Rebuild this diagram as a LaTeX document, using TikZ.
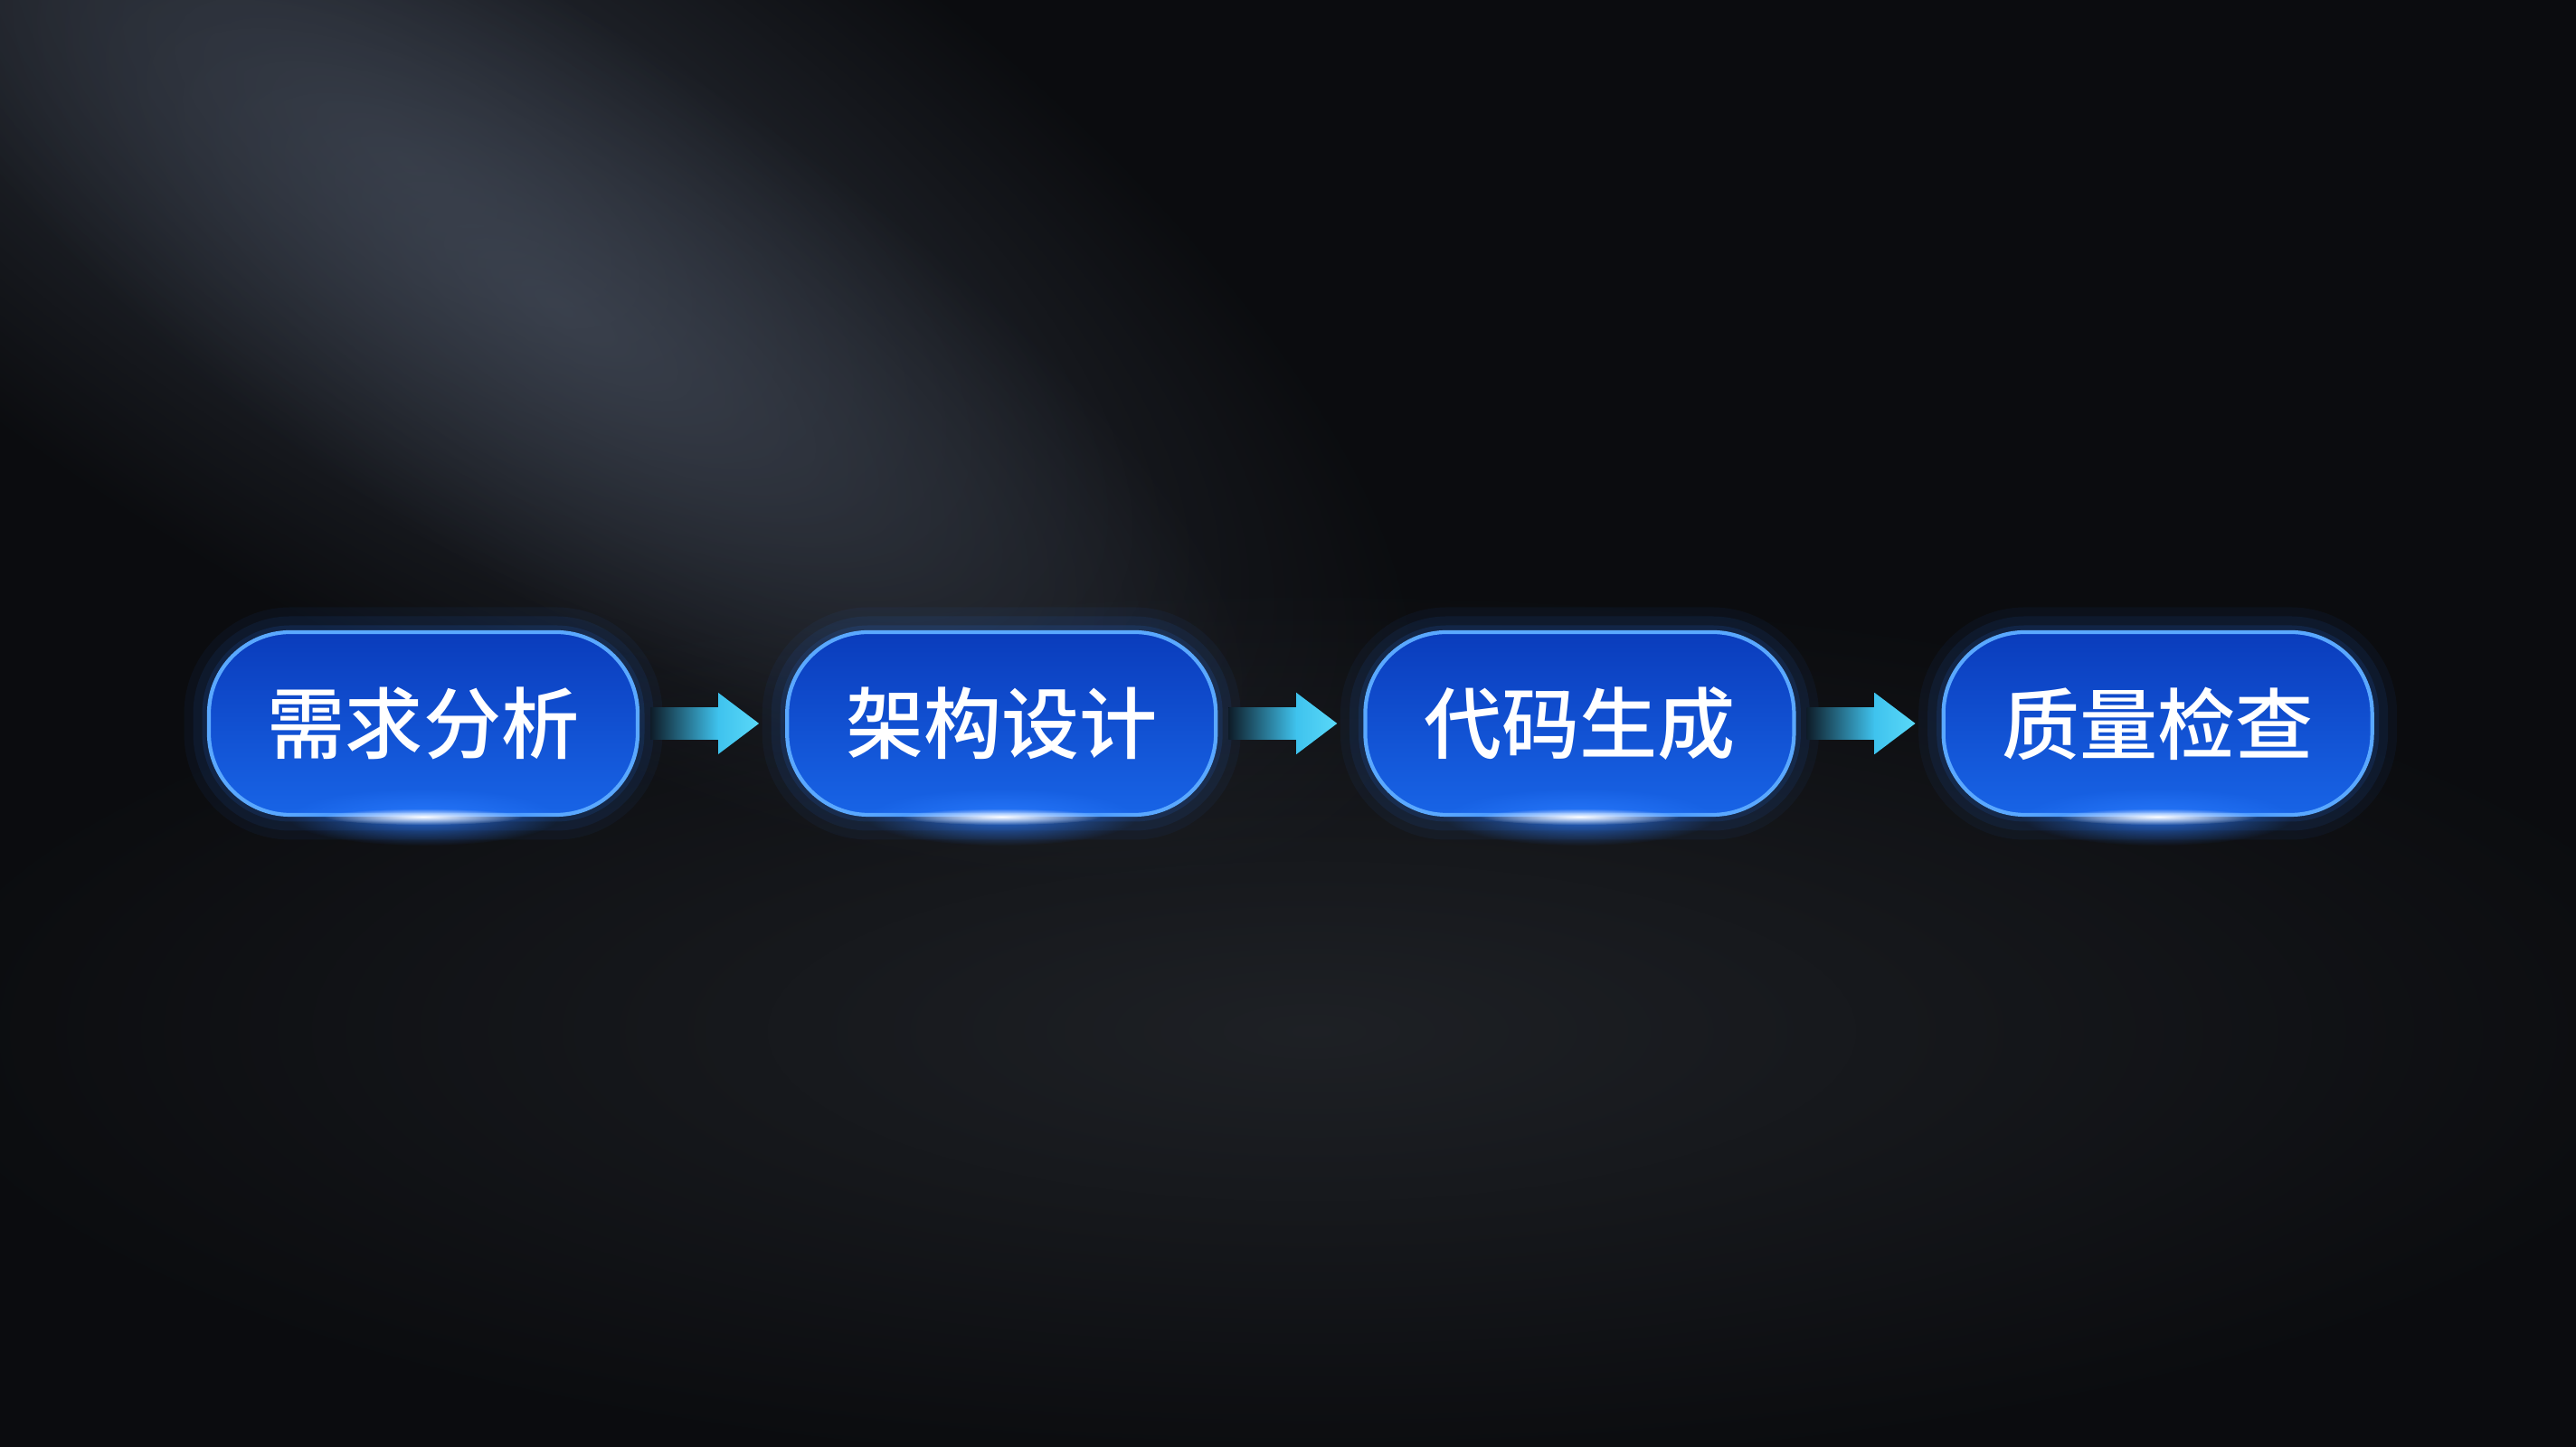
\documentclass[tikz,border=0pt]{standalone}
\usepackage{fontspec}
\newfontfamily\cjk{Noto Sans CJK SC Medium}
\usetikzlibrary{positioning,fadings}
\definecolor{bgdark}{HTML}{0B0C0F}
\definecolor{beamgray}{HTML}{48505F}
\definecolor{floorgray}{HTML}{23262B}
\definecolor{boxtop}{HTML}{0A3CBC}
\definecolor{boxbottom}{HTML}{1864E6}
\definecolor{boxedge}{HTML}{5AA8FF}
\definecolor{glowblue}{HTML}{2A7BFF}
\definecolor{arrowcyan}{HTML}{3FC3EE}
\definecolor{arrowtip}{HTML}{5AD8F8}
\definecolor{arrowdark}{HTML}{0E1C28}
\tikzfading[name=softglow, inner color=transparent!0, outer color=transparent!100]

\begin{document}
\begin{tikzpicture}[
  stagebox/.style={rounded corners=0.9cm, minimum width=4.74cm, minimum height=2.02cm,
    top color=boxtop, bottom color=boxbottom, draw=boxedge, line width=1.2pt,
    text=white, font=\cjk\fontsize{24.5}{28}\selectfont, inner sep=0pt,
    preaction={draw=glowblue, line width=0.55cm, opacity=0.05},
    preaction={draw=glowblue, line width=0.35cm, opacity=0.08},
    preaction={draw=glowblue, line width=0.15cm, opacity=0.12}},
  node distance=1.61cm]
\useasboundingbox (0,0) rectangle (28.48,16);

% Background
\fill[bgdark] (0,0) rectangle (28.48,16);
\fill[floorgray, path fading=softglow, opacity=0.8] (14.5,4.6) ellipse (16cm and 5cm);
\fill[beamgray, path fading=softglow, opacity=0.55,
  transform canvas={rotate around={-32:(4.5,14.2)}}] (4.5,14.2) ellipse (13cm and 5cm);
\fill[beamgray, path fading=softglow, opacity=0.6,
  transform canvas={rotate around={-33:(6.2,12.6)}}] (6.2,12.6) ellipse (9cm and 3cm);

% Stages
\node[stagebox] (req) at (4.68,8.0) {需求分析};
\node[stagebox, right=of req] (arch) {架构设计};
\node[stagebox, right=of arch] (code) {代码生成};
\node[stagebox, right=of code] (check) {质量检查};

% Bottom glow
\foreach \n in {req,arch,code,check} {
  \fill[glowblue, path fading=softglow, opacity=0.8] (\n.south) ellipse (1.5cm and 0.32cm);
  \fill[white, path fading=softglow] (\n.south) ellipse (1.1cm and 0.09cm);
}

% Arrows
\foreach \a/\b in {req/arch, arch/code, code/check} {
  \fill[left color=arrowdark, right color=arrowcyan]
    ([xshift=0.12cm,yshift=-0.175cm]\a.east) rectangle ([xshift=-0.74cm,yshift=0.175cm]\b.west);
  \fill[left color=arrowcyan, right color=arrowtip]
    ([xshift=-0.74cm,yshift=0.34cm]\b.west) -- ([xshift=-0.29cm]\b.west)
    -- ([xshift=-0.74cm,yshift=-0.34cm]\b.west) -- cycle;
}

\end{tikzpicture}
\end{document}
